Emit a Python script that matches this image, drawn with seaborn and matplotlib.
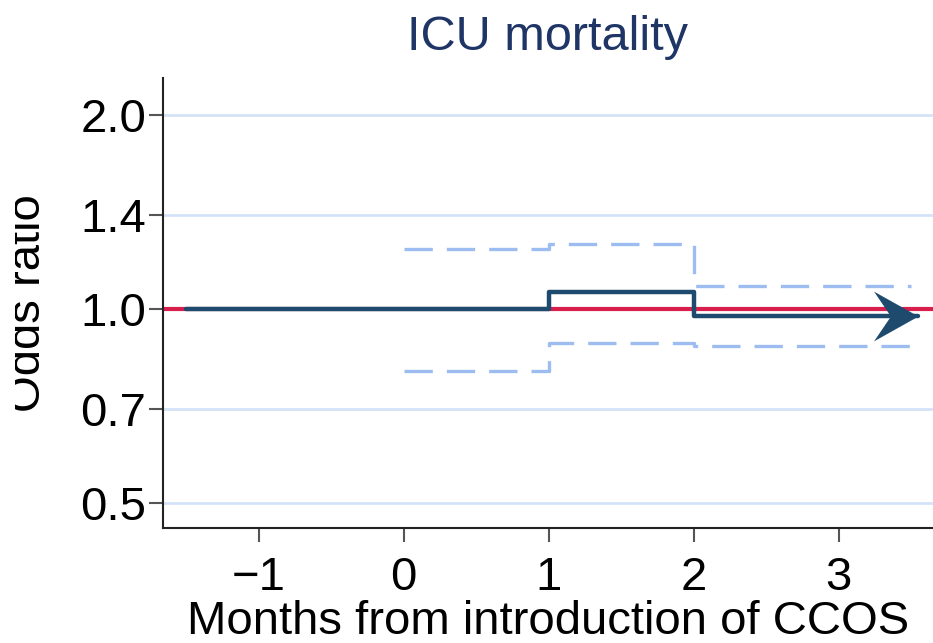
import numpy as np
import pandas as pd
import seaborn as sns
import matplotlib.pyplot as plt
from matplotlib.path import Path
from matplotlib.transforms import Bbox, TransformedBbox

# Data (odds ratios, step functions)
est_months = [-1.5, 1, 2, 3.55]
est_or = [1.0, 1.06, 0.975, 0.975]

ci_months = [0, 1, 2, 3.5]
ci_upper = [1.24, 1.26, 1.085, 1.085]
ci_lower = [0.80, 0.885, 0.876, 0.876]

y_ticks = [0.5, 0.7, 1.0, 1.4, 2.0]
y_labels = ['0.5', '0.7', '1.0', '1.4', '2.0']
x_ticks = [-1, 0, 1, 2, 3]
x_labels = ['\u22121', '0', '1', '2', '3']

sns.set_style('white')
plt.rcParams['font.family'] = ['Liberation Sans', 'DejaVu Sans']

df_est = pd.DataFrame({'month': est_months, 'or': est_or})
df_ci = pd.DataFrame({
    'month': ci_months * 2,
    'or': ci_upper + ci_lower,
    'bound': ['upper'] * len(ci_months) + ['lower'] * len(ci_months),
})

fig = plt.figure(figsize=(9.33, 6.43), dpi=100)
ax = fig.add_axes([0.1747, 0.1788, 0.8253, 0.6999])

ax.set_yscale('log')
ax.set_ylim(0.457, 2.28)
ax.set_xlim(-1.66, 3.65)

# light blue gridlines, red reference line at OR = 1
for t in y_ticks:
    if t != 1.0:
        ax.axhline(t, color='#d4e3f7', lw=2, zorder=0)
ax.axhline(1.0, color='#d81e4c', lw=3, zorder=1)

# confidence bounds (dashed steps)
sns.lineplot(data=df_ci, x='month', y='or', units='bound', estimator=None,
             drawstyle='steps-post', color='#9dbdf0', lw=2.4,
             dashes=False, ax=ax, zorder=2)
for line in ax.lines[-2:]:
    line.set_dashes([8.5, 4.2])

# point estimate with stealth arrow head at the end
sns.lineplot(data=df_est, x='month', y='or', drawstyle='steps-post',
             color='#1d4a6d', lw=3.2, ax=ax, zorder=3)
head = Path([(0, 0), (-1, 0.56), (-0.62, 0), (-1, -0.56), (0, 0)],
            [Path.MOVETO, Path.LINETO, Path.LINETO, Path.LINETO, Path.CLOSEPOLY])
ax.plot([est_months[-1]], [est_or[-1]], marker=head, markersize=64,
        color='#1d4a6d', markeredgewidth=0, zorder=4)

ax.set_yticks(y_ticks)
ax.set_yticklabels(y_labels)
ax.minorticks_off()
ax.set_xticks(x_ticks)
ax.set_xticklabels(x_labels)
ax.tick_params(axis='both', labelsize=34, length=10, width=1.5,
               color='#555555', labelcolor='black', left=True, bottom=True)
ax.tick_params(axis='y', pad=2)
ax.tick_params(axis='x', pad=10)

for side in ['top', 'right']:
    ax.spines[side].set_visible(False)
for side in ['left', 'bottom']:
    ax.spines[side].set_color('#222222')
    ax.spines[side].set_linewidth(1.5)

ax.set_xlabel('Months from introduction of CCOS', fontsize=34, labelpad=0,
              color='black')
ax.set_title('ICU mortality', fontsize=35, color='#1f3566', pad=20)

# y label is cropped along its top in the reference
ylab = ax.set_ylabel('Odds ratio', fontsize=34, color='black')
ax.yaxis.set_label_coords(-0.147, 0.5)
ylab.set_clip_box(TransformedBbox(Bbox([[15 / 933, 0], [1, 1]]), fig.transFigure))
ylab.set_clip_on(True)

fig.savefig('out.png', dpi=100)
